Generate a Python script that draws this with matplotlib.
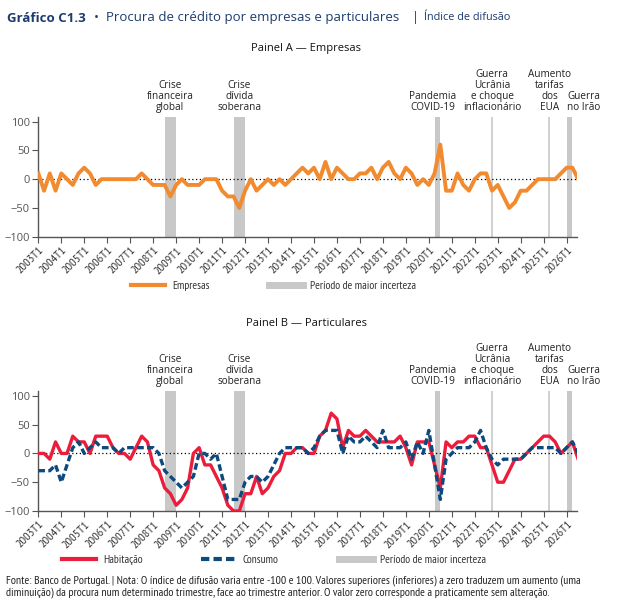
import matplotlib
matplotlib.use("Agg")
import matplotlib.pyplot as plt
from matplotlib import font_manager
from matplotlib.lines import Line2D
import matplotlib.transforms as mtransforms

# quarterly data, 2003T1 .. 2026T3
empresas = [10, -20, 10, -20, 10, 0, -10, 10, 20, 10, -10, 0, 0, 0, 0, 0, 0, 0, 10, 0,
            -10, -10, -10, -30, -10, 0, -10, -10, -10, 0, 0, 0, -20, -30, -30, -50, -20, 0, -20, -10,
            0, -10, 0, -10, 0, 10, 20, 10, 20, 0, 30, 0, 20, 10, 0, 0, 10, 10, 20, 0,
            20, 30, 10, 0, 20, 10, -10, 0, -10, 10, 60, -20, -20, 10, -10, -20, 0, 10, 10, -20,
            -10, -30, -50, -40, -20, -20, -10, 0, 0, 0, 0, 10, 20, 20, 0]
habitacao = [0, 0, -10, 20, 0, 0, 30, 20, 20, 0, 30, 30, 30, 10, 0, 0, -10, 10, 30, 20,
             -20, -30, -60, -70, -90, -80, -60, 0, 10, -20, -20, -40, -60, -90, -100, -100, -70, -70, -40, -70,
             -60, -40, -30, 0, 0, 10, 10, 0, 0, 30, 40, 70, 60, 10, 40, 30, 30, 40, 30, 20,
             20, 20, 20, 30, 10, -20, 20, 20, 20, -20, -60, 20, 10, 20, 20, 30, 30, 10, 10, -20,
             -50, -50, -30, -10, -10, 0, 10, 20, 30, 30, 20, 0, 10, 20, -10]
consumo = [-30, -30, -30, -20, -50, -20, 10, 20, 0, 10, 20, 10, 10, 10, 0, 10, 10, 10, 10, 10,
           10, 0, -30, -40, -50, -60, -50, -40, 0, 0, -10, 0, -40, -80, -80, -80, -50, -40, -40, -50,
           -40, -20, 0, 10, 10, 10, 10, 0, 10, 30, 40, 40, 40, 0, 30, 20, 20, 30, 20, 10,
           40, 10, 10, 10, 20, -10, 20, 0, 40, -20, -80, -10, 0, 10, 10, 10, 20, 40, 10, -10,
           -20, -10, -10, -10, -10, 0, 10, 10, 10, 10, 10, 0, 10, 20, 0]

years = list(range(2003, 2027))
tick_labels = [f"{y}T1" for y in years]

# periods of higher uncertainty (quarter index ranges) and single-quarter markers
bands = [(22, 24), (34, 36), (69, 70), (92, 93)]
vlines = [79, 89]
events = [(23, ["Crise", "financeira", "global"]), (35, ["Crise", "dívida", "soberana"]),
          (68.7, ["Pandemia", "COVID-19"]), (79, ["Guerra", "Ucrânia", "e choque", "inflacionário"]),
          (89, ["Aumento", "tarifas", "dos", "EUA"]), (95.0, ["Guerra", "no Irão"])]

names = {f.name for f in font_manager.fontManager.ttflist}
narrow = [n for n in ["PT Sans Narrow", "Roboto Condensed", "Open Sans Condensed",
                      "Archivo Narrow", "Asap Condensed", "Liberation Sans"] if n in names]
narrow = narrow[:1] + ["DejaVu Sans"]
main = [n for n in ["Open Sans"] if n in names] + ["DejaVu Sans"]
plt.rcParams["font.family"] = main

navy = "#1d3c6e"
grey_band = "#c8c8c8"
c_emp = "#f28a30"
c_hab = "#ec1c3c"
c_con = "#0d4a7e"

W, H = 617, 607
fig = plt.figure(figsize=(W / 100, H / 100), dpi=100)
axA = fig.add_axes([0.0621, 0.610, 0.8726, 0.1972])
axB = fig.add_axes([0.0621, 0.1582, 0.8726, 0.1972])

x = list(range(len(empresas)))


def style(ax):
    ax.set_xlim(0, 93.75)
    ax.set_ylim(-100, 108)
    for b0, b1 in bands:
        ax.axvspan(b0, b1, color=grey_band, lw=0, zorder=1)
    for v in vlines:
        ax.axvline(v, color=grey_band, lw=1.2, zorder=1)
    ax.axhline(0, color="black", lw=0.9, ls=(0, (1, 2)), zorder=2)
    for s in ["top", "right"]:
        ax.spines[s].set_visible(False)
    for s in ["left", "bottom"]:
        ax.spines[s].set_color("#555555")
        ax.spines[s].set_linewidth(1.0)
    ax.set_yticks([-100, -50, 0, 50, 100])
    ax.tick_params(axis="y", labelsize=8, colors="#555555", length=4, pad=2)
    ax.set_xticks(range(0, 93, 4))
    ax.set_xticklabels(tick_labels, rotation=45, ha="right", rotation_mode="anchor",
                       fontsize=8.8, family=narrow)
    ax.tick_params(axis="x", length=4, colors="#555555", labelcolor="#333333", pad=2)
    tr = mtransforms.blended_transform_factory(ax.transData, ax.transAxes)
    # one text per line, stacked upwards from the top of the axes
    for xe, lines in events:
        for k, line in enumerate(reversed(lines)):
            ax.annotate(line, xy=(xe, 1), xycoords=tr, xytext=(0, 5 + 8.0 * k),
                        textcoords="offset points", ha="center", va="baseline",
                        fontsize=7.2, color="#222222")


style(axA)
style(axB)

axA.plot(x, empresas, color=c_emp, lw=2.8, zorder=3)
axB.plot(x, habitacao, color=c_hab, lw=2.4, zorder=3)
axB.plot(x, consumo, color=c_con, lw=2.4, ls=(0, (2, 1)), zorder=4)

# titles
ty = 1 - 18 / H
fig.text(7 / W, ty, "Gráfico C1.3", fontsize=9.5, fontweight="bold", color=navy, va="center")
fig.text(94 / W, ty, "•", fontsize=9.5, color=navy, va="center")
fig.text(106 / W, ty, "Procura de crédito por empresas e particulares", fontsize=9.5,
         color=navy, va="center")
fig.text(412 / W, ty, "|", fontsize=9.5, color=navy, va="center")
fig.text(424 / W, ty, "Índice de difusão", fontsize=7.8, color=navy, va="center")
fig.text(306 / W, 1 - 49 / H, "Painel A — Empresas", fontsize=8, ha="center", va="center",
         color="#111111")
fig.text(306 / W, 1 - 324 / H, "Painel B — Particulares", fontsize=8, ha="center", va="center",
         color="#111111")

legfont = {"family": narrow, "size": 8.3}


def legend_item(x0, y0, handle, label):
    fig.legend([handle], [label], loc="center left", bbox_to_anchor=(x0 / W, 1 - y0 / H),
               frameon=False, prop=legfont, borderpad=0, handlelength=3.0,
               handletextpad=0.6, labelcolor="#333333")


legend_item(125, 286, Line2D([], [], color=c_emp, lw=3), "Empresas")
legend_item(263, 286, Line2D([], [], color=grey_band, lw=5), "Período de maior incerteza")
legend_item(56, 560, Line2D([], [], color=c_hab, lw=3), "Habitação")
legend_item(195, 560, Line2D([], [], color=c_con, lw=3, ls=(0, (2, 1))), "Consumo")
legend_item(333, 560, Line2D([], [], color=grey_band, lw=5), "Período de maior incerteza")

note1 = ("Fonte: Banco de Portugal. | Nota: O índice de difusão varia entre -100 e 100. Valores superiores "
         "(inferiores) a zero traduzem um aumento (uma")
note2 = ("diminuição) da procura num determinado trimestre, face ao trimestre anterior. "
         "O valor zero corresponde a praticamente sem alteração.")
t1 = fig.text(6 / W, 1 - 581 / H, note1, fontsize=7.5, family=narrow, va="center", color="#222222")
t2 = fig.text(6 / W, 1 - 593 / H, note2, fontsize=7.5, family=narrow, va="center", color="#222222")
# shrink the note so that its first line spans the figure width as in the original
r = fig.canvas.get_renderer()
w1 = t1.get_window_extent(r).width
fs = min(7.5 * 600 / w1, 8.5)
t1.set_fontsize(fs)
t2.set_fontsize(fs)

fig.savefig("out.png", dpi=100)
